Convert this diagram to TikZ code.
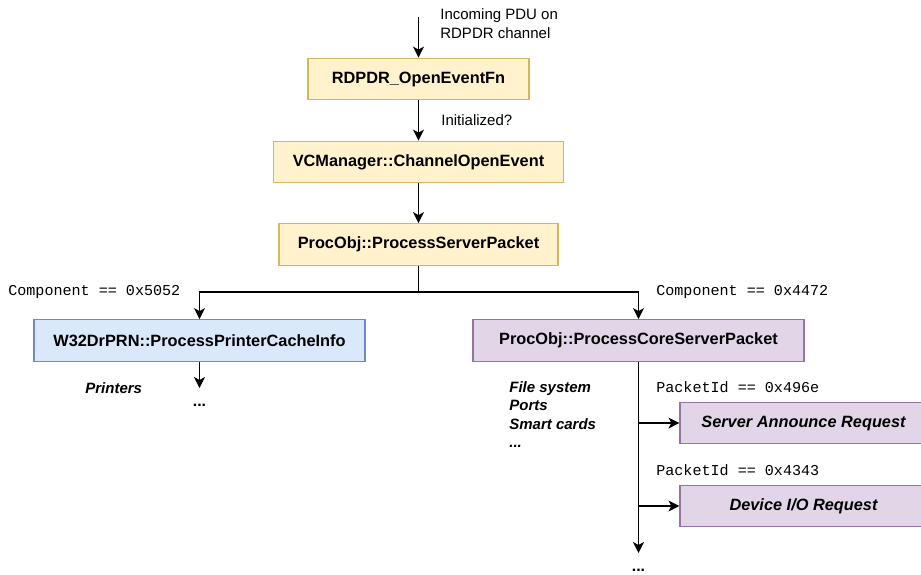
\documentclass[tikz,border=0pt]{standalone}
\usepackage{fontspec}
\setmainfont{Liberation Sans}
\setmonofont{Liberation Mono}
\usetikzlibrary{arrows.meta,positioning}

\definecolor{yelfill}{HTML}{FFF2CC}
\definecolor{yelline}{HTML}{D6B656}
\definecolor{bluefill}{HTML}{DAE8FC}
\definecolor{blueline}{HTML}{6C8EBF}
\definecolor{purfill}{HTML}{E1D5E7}
\definecolor{purline}{HTML}{9673A6}

\tikzset{
    func/.style={draw, line width=0.7pt, inner sep=0pt, minimum height=25pt,
        font=\fontsize{9.8}{11.8}\selectfont\bfseries},
    yelbox/.style={func, fill=yelfill, draw=yelline},
    bluebox/.style={func, fill=bluefill, draw=blueline},
    purbox/.style={func, fill=purfill, draw=purline},
    flow/.style={line width=0.85pt, -{Stealth[length=6.6pt, width=6.6pt, inset=1.8pt]}},
    note/.style={inner sep=0pt, anchor=west, align=left, font=\fontsize{9}{11.4}\selectfont},
    cond/.style={inner sep=0pt, anchor=west, font=\fontsize{9.05}{11}\ttfamily},
    kind/.style={note, font=\fontsize{9}{11.1}\selectfont\bfseries\itshape},
    more/.style={inner sep=0pt, anchor=north, text height=11pt, font=\fontsize{9.5}{11}\selectfont\bfseries},
}

\begin{document}
\begin{tikzpicture}[x=0.6pt, y=-0.6pt]

    % Fix the page to the size of the picture
    \useasboundingbox (0,0) rectangle (921,574);

    % Draw the call chain
    \node[yelbox, minimum width=132.6pt] (rdpdr) at (418.5,79) {RDPDR\_OpenEventFn};
    \node[yelbox, minimum width=174pt] (vcm) at (418.5,162) {VCManager::ChannelOpenEvent};
    \node[yelbox, minimum width=167.4pt] (psp) at (418.5,244.5) {ProcObj::ProcessServerPacket};
    \node[bluebox, minimum width=198.6pt] (w32) at (199.5,340.5) {W32DrPRN::ProcessPrinterCacheInfo};
    \node[purbox, minimum width=198.6pt] (pcsp) at (638.5,340.5) {ProcObj::ProcessCoreServerPacket};
    \node[purbox, minimum width=148.2pt, font=\fontsize{9.8}{11.8}\selectfont\bfseries\itshape] (sar) at (803.5,423) {Server Announce Request};
    \node[purbox, minimum width=148.2pt, font=\fontsize{9.8}{11.8}\selectfont\bfseries\itshape] (dio) at (803.5,506) {Device I/O Request};

    % Open ends
    \coordinate (pdu) at (418.5,17);
    \coordinate (split) at (418.5,292);
    \node[more] (pdots) at (199.5,388) {...};
    \node[more] (cdots) at (638.5,553) {...};

    % Draw the connectors
    \draw[flow] (pdu) -- (rdpdr);
    \draw[flow] (rdpdr) -- (vcm);
    \draw[flow] (vcm) -- (psp);
    \draw[line width=0.85pt] (psp) -- (split);
    \draw[flow] (split) -| (w32);
    \draw[flow] (split) -| (pcsp);
    \draw[flow] (w32) -- (pdots);
    \draw[flow] (pcsp) -- (cdots);
    \draw[flow] (pcsp.south |- sar.west) -- (sar);
    \draw[flow] (pcsp.south |- dio.west) -- (dio);

    % Label the connectors
    \node[note] (pdulbl) at (440,23.5) {Incoming PDU on\\RDPDR channel};
    \node[note] (initlbl) at (441,120) {Initialized?};
    \node[cond] (c5052) at (8,292) {Component == 0x5052};
    \node[cond] (c4472) at (656,292) {Component == 0x4472};
    \node[cond] (p496e) at (656,387) {PacketId == 0x496e};
    \node[cond] (p4343) at (656,470) {PacketId == 0x4343};

    % Device kinds
    \node[kind] (printers) at (85,388) {Printers};
    \node[kind, anchor=north west] (devices) at (509,381) {File system\\Ports\\Smart cards\\...};

\end{tikzpicture}
\end{document}
